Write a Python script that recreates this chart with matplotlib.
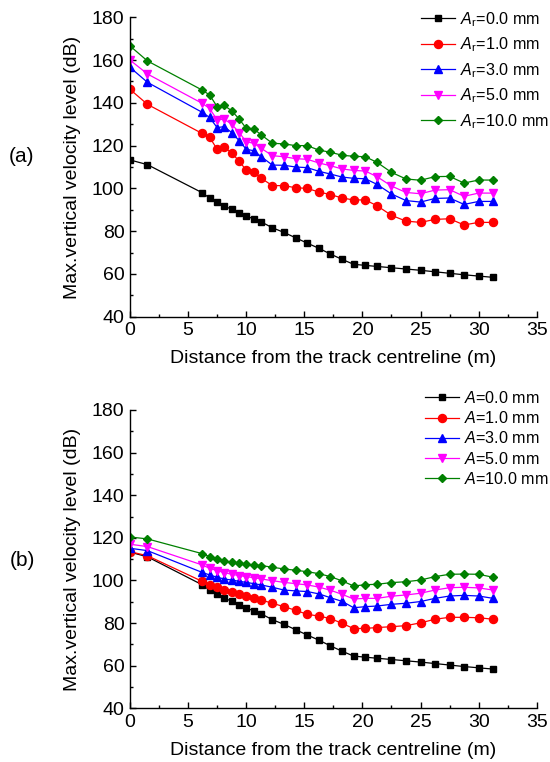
import numpy as np
import matplotlib.pyplot as plt
from matplotlib.ticker import MultipleLocator

plt.rcParams['font.family'] = ['Liberation Sans', 'DejaVu Sans']
plt.rcParams['mathtext.fontset'] = 'custom'
plt.rcParams['mathtext.rm'] = 'Liberation Sans'
plt.rcParams['mathtext.it'] = 'Liberation Sans:italic'

# distance from the track centreline (m)
dist = [0, 1.5, 6.2, 6.85, 7.5, 8.1, 8.75, 9.4, 10.0, 10.65, 11.3, 12.25, 13.25,
        14.25, 15.25, 16.25, 17.25, 18.25, 19.25, 20.25, 21.25, 22.5, 23.75,
        25.0, 26.25, 27.5, 28.75, 30.0, 31.25]

# (a) rail roughness amplitude Ar
a_00 = [113.3, 111.1, 98.0, 95.5, 93.6, 91.8, 90.2, 88.6, 87.1, 85.7, 84.3, 81.6,
        79.4, 76.9, 74.4, 72.0, 69.3, 66.8, 64.5, 64.0, 63.5, 62.9, 62.3, 61.7,
        61.0, 60.3, 59.6, 59.0, 58.4]
a_10 = [146.3, 139.3, 125.7, 123.9, 118.3, 119.2, 116.7, 112.6, 108.6, 107.7,
        104.7, 101.3, 101.3, 100.3, 100.0, 98.3, 97.1, 95.5, 94.6, 94.6, 91.9,
        87.4, 84.7, 84.1, 85.5, 85.8, 82.9, 84.1, 84.1]
a_30 = [156.6, 149.6, 135.6, 133.2, 128.4, 128.9, 126.1, 122.3, 118.3, 117.6,
        114.8, 110.9, 110.8, 110.0, 109.7, 108.0, 106.7, 105.3, 104.7, 104.5,
        101.9, 97.4, 94.3, 93.6, 95.3, 95.5, 92.5, 93.9, 93.9]
a_50 = [160.0, 153.5, 139.8, 137.4, 132.0, 132.4, 130.0, 126.1, 121.8, 121.1,
        118.7, 115.3, 114.8, 113.9, 113.6, 111.9, 110.6, 109.1, 108.4, 108.1,
        105.5, 101.1, 98.1, 97.5, 99.2, 99.4, 96.3, 97.8, 97.8]
a_100 = [166.6, 159.6, 146.0, 143.7, 138.2, 138.8, 136.3, 132.4, 128.1, 127.8,
         125.0, 121.1, 120.8, 120.0, 120.0, 117.9, 116.9, 115.5, 115.0, 114.8,
         112.2, 107.5, 104.4, 103.8, 105.5, 105.6, 102.5, 103.9, 103.9]

# (b) amplitude A
b_00 = a_00
b_10 = [113.5, 111.6, 99.6, 98.0, 96.8, 95.7, 94.6, 93.7, 92.7, 91.8, 90.8, 89.3,
        87.7, 86.0, 84.1, 83.3, 82.1, 79.9, 77.4, 77.5, 77.9, 78.3, 78.8, 80.1,
        81.8, 82.7, 82.7, 82.5, 81.8]
b_30 = [115.1, 114.0, 103.8, 102.6, 101.5, 100.7, 100.2, 99.6, 99.1, 98.5, 97.9,
        96.8, 95.5, 95.1, 94.8, 93.7, 91.9, 90.2, 87.2, 87.7, 88.0, 88.8, 89.3,
        90.1, 91.6, 92.7, 93.0, 92.7, 91.6]
b_50 = [117.0, 115.9, 107.3, 105.7, 104.6, 103.7, 102.9, 102.3, 101.8, 101.3,
        100.7, 99.9, 99.1, 98.5, 97.9, 96.9, 95.4, 93.5, 91.3, 91.6, 91.6, 92.6,
        93.2, 94.0, 95.5, 96.6, 96.8, 96.5, 95.5]
b_100 = [120.4, 119.5, 112.6, 111.2, 109.9, 109.1, 108.5, 108.0, 107.6, 107.3,
         107.0, 106.2, 105.4, 104.8, 104.1, 103.2, 101.8, 99.8, 97.4, 98.0, 98.2,
         99.0, 99.4, 100.2, 101.8, 102.9, 103.0, 102.9, 101.5]

amps = ['0.0', '1.0', '3.0', '5.0', '10.0']
colors = ['black', 'red', 'blue', 'magenta', 'green']
markers = ['s', 'o', '^', 'v', 'D']
msizes = [4.8, 5.8, 6.2, 6.2, 4.4]

W, H = 550, 762
fig = plt.figure(figsize=(W / 100, H / 100), dpi=100)
ax_a = fig.add_axes([130 / W, 1 - 316.7 / H, 406.7 / W, 299.4 / H])
ax_b = fig.add_axes([130 / W, 1 - 708.3 / H, 406.7 / W, 298.3 / H])


def draw(ax, series, sym):
    for ys, amp, c, m, ms in zip(series, amps, colors, markers, msizes):
        ax.plot(dist, ys, color=c, marker=m, markersize=ms, lw=0.9,
                label=sym + '=' + amp + ' mm')
    ax.set_xlim(0, 35)
    ax.set_ylim(40, 180)
    ax.xaxis.set_major_locator(MultipleLocator(5))
    ax.xaxis.set_minor_locator(MultipleLocator(2.5))
    ax.yaxis.set_major_locator(MultipleLocator(20))
    ax.yaxis.set_minor_locator(MultipleLocator(10))
    ax.spines['top'].set_visible(False)
    ax.spines['right'].set_visible(False)
    for s in ('left', 'bottom'):
        ax.spines[s].set_linewidth(1.0)
    ax.tick_params(which='both', direction='in', labelsize=14, width=1.0)
    ax.tick_params(which='major', length=4, pad=4)
    ax.tick_params(which='minor', length=2)
    ax.set_xlabel('Distance from the track centreline (m)', fontsize=14, labelpad=8)
    ax.set_ylabel('Max.vertical velocity level (dB)', fontsize=14, labelpad=8)


draw(ax_a, [a_00, a_10, a_30, a_50, a_100], r'$A_\mathrm{r}$')
draw(ax_b, [b_00, b_10, b_30, b_50, b_100], r'$A$')

ax_a.legend(loc='upper left', bbox_to_anchor=(421 / W, 1 - 10 / H),
            bbox_transform=fig.transFigure, frameon=False, fontsize=11.6,
            borderpad=0, handlelength=2.1, handletextpad=0.35, labelspacing=0.42,
            borderaxespad=0)
ax_b.legend(loc='upper left', bbox_to_anchor=(425 / W, 1 - 390 / H),
            bbox_transform=fig.transFigure, frameon=False, fontsize=11.6,
            borderpad=0, handlelength=2.1, handletextpad=0.35, labelspacing=0.26,
            borderaxespad=0)

fig.text(22 / W, 1 - 157 / H, '(a)', fontsize=15, ha='center', va='center')
fig.text(22 / W, 1 - 560 / H, '(b)', fontsize=15, ha='center', va='center')

fig.savefig('out.png', dpi=100)
